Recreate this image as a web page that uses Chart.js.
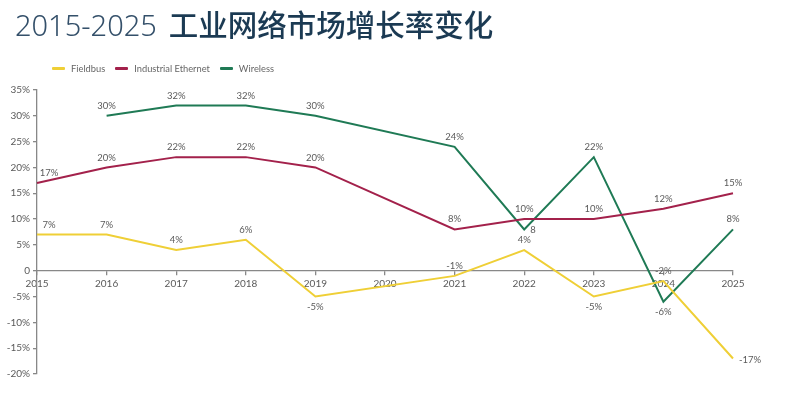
<!DOCTYPE html>
<html>
<head>
<meta charset="utf-8">
<script src="https://cdn.jsdelivr.net/npm/chart.js@4/dist/chart.umd.min.js"></script>
<style>
  body { margin: 0; background: #fff; }
  #wrap { position: relative; width: 789px; height: 396px; overflow: hidden; }
  #chart { position: absolute; left: 0; top: 0; }
  #title { position: absolute; left: 15px; top: 2px; font-size: 29px; color: #1b3a53; white-space: nowrap; }
  #title .yrs { font-family: "Noto Sans", sans-serif; font-weight: 300; color: #34506a; }
  #title .cn { font-family: "Noto Sans CJK SC", sans-serif; font-weight: 500; margin-left: 12px; font-size: 29.5px; }
  #legend { position: absolute; left: 52px; top: 63px; font: 9.3px Lato, sans-serif; color: #666; display: flex; align-items: center; }
  #legend span.sw { display: inline-block; width: 13px; height: 3px; margin-right: 6px; border-radius: 1px; }
  #legend span.item { display: flex; align-items: center; margin-right: 10px; }
</style>
</head>
<body>
<div id="wrap">
  <canvas id="chart" width="789" height="396"></canvas>
  <div id="title"><span class="yrs">2015-2025</span><span class="cn">工业网络市场增长率变化</span></div>
  <div id="legend"></div>
</div>
<script>
const years = ["2015", "2016", "2017", "2018", "2019", "2020", "2021", "2022", "2023", "2024", "2025"];
const fieldbus = [7, 7, 4, 6, -5, null, -1, 4, -5, -2, -17];
const ethernet = [17, 20, 22, 22, 20, null, 8, 10, 10, 12, 15];
const wireless = [null, 30, 32, 32, 30, null, 24, 8, 22, -6, 8];

const seriesNames = ["Fieldbus", "Industrial Ethernet", "Wireless"];
const seriesColors = ["#efcf36", "#a3214b", "#1f7a55"];

// where each value label sits (default is above the point)
const fieldbusPlace = { 0: "right", 4: "below", 8: "below", 10: "side" };
const ethernetPlace = { 0: "right" };
const wirelessPlace = { 7: "side", 9: "below" };
const wirelessText = { 7: "8" };

const valueLabels = {
  id: "valueLabels",
  afterDatasetsDraw(chart) {
    const ctx = chart.ctx;
    ctx.save();
    ctx.font = "9.5px Lato, sans-serif";
    ctx.fillStyle = "#5a5a5a";
    ctx.textAlign = "center";
    ctx.textBaseline = "middle";
    chart.data.datasets.forEach((ds, i) => {
      const meta = chart.getDatasetMeta(i);
      meta.data.forEach((pt, j) => {
        const v = ds.data[j];
        if (v === null || v === undefined) return;
        const text = (ds.labelText && ds.labelText[j]) || v + "%";
        const place = (ds.labelPlace && ds.labelPlace[j]) || "above";
        let dx = 0, dy = -10;
        if (place === "below") dy = 10;
        if (place === "right") dx = 12;
        if (place === "side") {
          dx = ctx.measureText(text).width / 2 + 6;
          dy = 1;
        }
        ctx.fillText(text, pt.x + dx, pt.y + dy);
      });
    });
    ctx.restore();
  }
};

const legend = document.getElementById("legend");
seriesNames.forEach((name, i) => {
  const item = document.createElement("span");
  item.className = "item";
  item.innerHTML = `<span class="sw" style="background:${seriesColors[i]}"></span>${name}`;
  legend.appendChild(item);
});

const ctx = document.getElementById("chart").getContext("2d");

new Chart(ctx, {
  type: "line",
  data: {
    labels: years,
    datasets: [
      { label: seriesNames[0], data: fieldbus, labelPlace: fieldbusPlace },
      { label: seriesNames[1], data: ethernet, labelPlace: ethernetPlace },
      { label: seriesNames[2], data: wireless, labelPlace: wirelessPlace, labelText: wirelessText }
    ].map((d, i) => ({
      ...d,
      borderColor: seriesColors[i],
      backgroundColor: seriesColors[i],
      borderWidth: 2,
      pointRadius: 0,
      tension: 0,
      spanGaps: true,
      fill: false
    }))
  },
  options: {
    responsive: false,
    animation: false,
    layout: { padding: { top: 90, bottom: 22, right: 56, left: 0 } },
    plugins: {
      legend: { display: false },
      tooltip: { enabled: false }
    },
    scales: {
      x: {
        position: { y: 0 },
        offset: false,
        grid: { drawOnChartArea: false, tickLength: 4, color: "#888", lineWidth: 1.3 },
        border: { color: "#888", width: 1.3 },
        ticks: { color: "#5a5a5a", font: { family: "Lato", size: 10 }, padding: 3, maxRotation: 0 }
      },
      y: {
        min: -20,
        max: 35,
        afterFit: (s) => { s.width = 37; },
        grid: { drawOnChartArea: false, tickLength: 4, color: "#888", lineWidth: 1.3 },
        border: { color: "#888", width: 1.3 },
        ticks: {
          stepSize: 5,
          color: "#5a5a5a",
          font: { family: "Lato", size: 10 },
          padding: 3,
          callback: (v) => (v === 0 ? "0" : v + "%")
        }
      }
    }
  },
  plugins: [valueLabels]
});
</script>
</body>
</html>
